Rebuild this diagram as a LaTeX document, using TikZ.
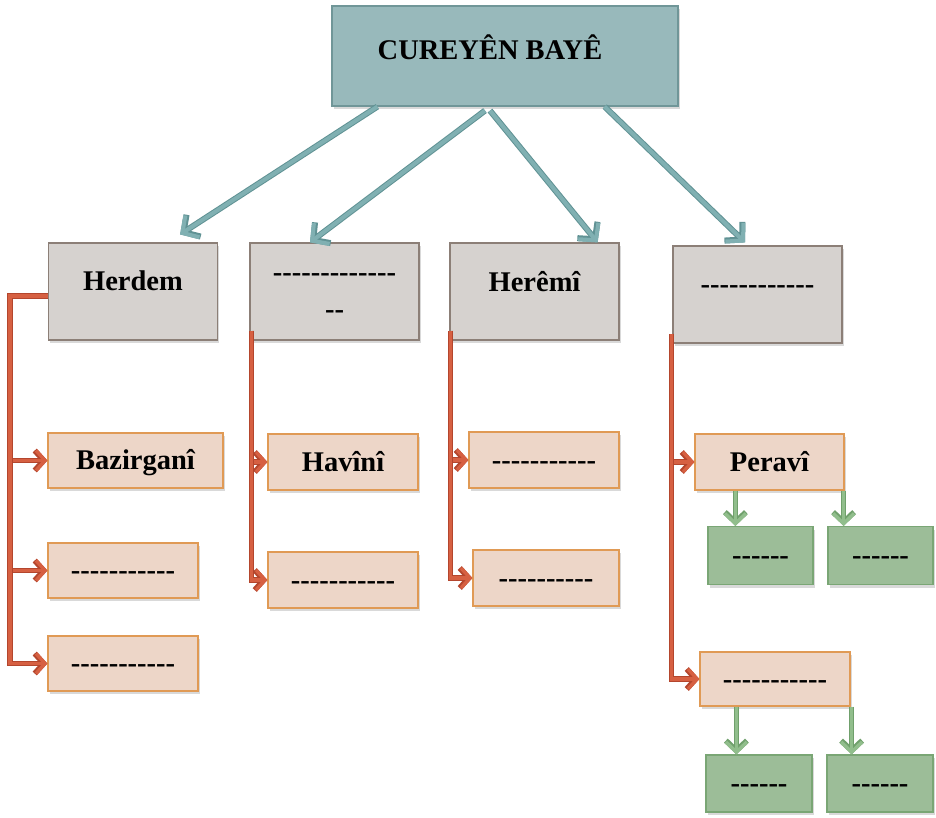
\documentclass[tikz,border=0pt]{standalone}
\usepackage{fontspec}
\setmainfont{Liberation Serif}
\usepackage{tikz}
\usetikzlibrary{arrows.meta, shadows}

\definecolor{headfill}{RGB}{152,185,187}
\definecolor{headline}{RGB}{112,150,152}
\definecolor{grpfill}{RGB}{214,210,207}
\definecolor{grpline}{RGB}{140,127,119}
\definecolor{itemfill}{RGB}{237,214,200}
\definecolor{itemline}{RGB}{224,154,85}
\definecolor{leaffill}{RGB}{156,189,152}
\definecolor{leafline}{RGB}{122,166,117}
\definecolor{arrteal}{RGB}{128,176,178}
\definecolor{arrtealdk}{RGB}{96,146,148}
\definecolor{branchred}{RGB}{214,96,66}
\definecolor{branchreddk}{RGB}{180,70,45}
\definecolor{leafgreen}{RGB}{145,190,140}
\definecolor{leafgreendk}{RGB}{112,160,108}

% hyphens kept apart, so that no dash ligature is formed
\newcommand{\hy}{-{}}

\begin{document}
\begin{tikzpicture}[x=1pt, y=-1pt,
  txt/.style={font=\bfseries\fontsize{28.5}{37}\selectfont, align=center},
  box/.style={rectangle, draw, line width=1.2pt, inner sep=0pt, txt,
    drop shadow={shadow xshift=1.5pt, shadow yshift=-3pt, opacity=0.3}},
  headbox/.style={box, fill=headfill, draw=headline, minimum width=346pt, minimum height=100pt},
  grpbox/.style={box, fill=grpfill, draw=grpline, minimum width=169pt, minimum height=97pt},
  itembox/.style={box, fill=itemfill, draw=itemline, minimum width=150pt, minimum height=55pt,
    text height=22pt, text depth=4pt},
  leafbox/.style={box, fill=leaffill, draw=leafline, minimum width=105pt, minimum height=58pt,
    text height=22pt, text depth=4pt},
  toparrow/.style={draw=arrteal, line width=4pt, -{Straight Barb[length=12pt,width=26pt]},
    preaction={draw=arrtealdk, line width=6pt, -{Straight Barb[length=12pt,width=26pt]}}},
  branch/.style={draw=branchred, line width=3.5pt, -{Straight Barb[length=9pt,width=20pt]},
    preaction={draw=branchreddk, line width=5.5pt, -{Straight Barb[length=9pt,width=20pt]}}},
  leafarrow/.style={draw=leafgreen, line width=3.5pt, -{Straight Barb[length=10pt,width=21pt]},
    preaction={draw=leafgreendk, line width=5.5pt, -{Straight Barb[length=10pt,width=21pt]}}}]
  \useasboundingbox (0,0) rectangle (936,817);

  % top
  \node[headbox, label={[txt, xshift=-15pt, yshift=9pt]center:CUREYÊN BAYÊ}] (head) at (505,56) {};

  % groups
  \node[grpbox, label={[txt, yshift=10.5pt]center:Herdem}] (herdem) at (133,291.5) {};
  \node[grpbox, label={[txt, yshift=-5pt]center:\hy\hy\hy\hy\hy\hy\hy\hy\hy\hy\hy\hy\hy\\\hy\hy}] (grp2) at (334.5,291.5) {};
  \node[grpbox, label={[txt, yshift=9.5pt]center:Herêmî}] (heremi) at (534.5,291.5) {};
  \node[grpbox, label={[txt, yshift=4.5pt]center:\hy\hy\hy\hy\hy\hy\hy\hy\hy\hy\hy\hy}] (grp4) at (757.5,294.5) {};

  % items
  \node[itembox, minimum width=175pt] (bazirgani) at (135.5,460.5) {Bazirganî};
  \node[itembox] (left2) at (123,570.5) {\hy\hy\hy\hy\hy\hy\hy\hy\hy\hy\hy};
  \node[itembox] (left3) at (123,663.5) {\hy\hy\hy\hy\hy\hy\hy\hy\hy\hy\hy};
  \node[itembox, minimum height=56pt] (havini) at (343,462) {Havînî};
  \node[itembox, minimum height=56pt] (mid2) at (343,580) {\hy\hy\hy\hy\hy\hy\hy\hy\hy\hy\hy};
  \node[itembox, minimum height=56pt] (right1) at (544,460) {\hy\hy\hy\hy\hy\hy\hy\hy\hy\hy\hy};
  \node[itembox, minimum width=146pt, minimum height=56pt] (right2) at (546,578) {\hy\hy\hy\hy\hy\hy\hy\hy\hy\hy};
  \node[itembox, minimum width=149pt, minimum height=56pt] (peravi) at (769.5,462) {Peravî};
  \node[itembox, minimum height=54pt] (last2) at (775,679) {\hy\hy\hy\hy\hy\hy\hy\hy\hy\hy\hy};

  % leaves
  \node[leafbox] (leaf1) at (760.5,555.5) {\hy\hy\hy\hy\hy\hy};
  \node[leafbox] (leaf2) at (880.5,555.5) {\hy\hy\hy\hy\hy\hy};
  \node[leafbox, minimum width=106pt, minimum height=57pt] (leaf3) at (759,783.5) {\hy\hy\hy\hy\hy\hy};
  \node[leafbox, minimum width=106pt, minimum height=57pt] (leaf4) at (880,783.5) {\hy\hy\hy\hy\hy\hy};

  % arrows from the top
  \draw[toparrow] ([xshift=46pt]head.south west) -- ([xshift=-38pt,yshift=8pt]herdem.north east);
  \draw[toparrow] ([xshift=-20pt,yshift=-4pt]head.south) -- ([xshift=-24.5pt]grp2.north);
  \draw[toparrow] ([xshift=-15pt,yshift=-4pt]head.south) -- ([xshift=-22pt]heremi.north east);
  \draw[toparrow] ([xshift=-74pt]head.south east) -- ([xshift=-12.5pt,yshift=3pt]grp4.north);

  % branches
  \foreach \t in {bazirgani,left2,left3}
    \draw[branch] ([yshift=-4.5pt]herdem.west) -- ++(-38,0) |- (\t.west);
  \foreach \t in {havini,mid2}
    \draw[branch] ([xshift=2pt,yshift=10pt]grp2.south west) |- (\t.west);
  \foreach \t in {right1,right2}
    \draw[branch] ([xshift=1pt,yshift=10pt]heremi.south west) |- (\t.west);
  \foreach \t in {peravi,last2}
    \draw[branch] ([xshift=-1pt,yshift=10pt]grp4.south west) |- (\t.west);

  % down to the leaves
  \coordinate (p1) at ([xshift=41pt]peravi.south west);
  \coordinate (p2) at ([xshift=-1pt]peravi.south east);
  \coordinate (q1) at ([xshift=37pt]last2.south west);
  \coordinate (q2) at ([xshift=1pt]last2.south east);
  \draw[leafarrow] (p1) -- (p1 |- leaf1.north);
  \draw[leafarrow] (p2) -- (p2 |- leaf2.north);
  \draw[leafarrow] (q1) -- (q1 |- leaf3.north);
  \draw[leafarrow] (q2) -- (q2 |- leaf4.north);
\end{tikzpicture}
\end{document}
